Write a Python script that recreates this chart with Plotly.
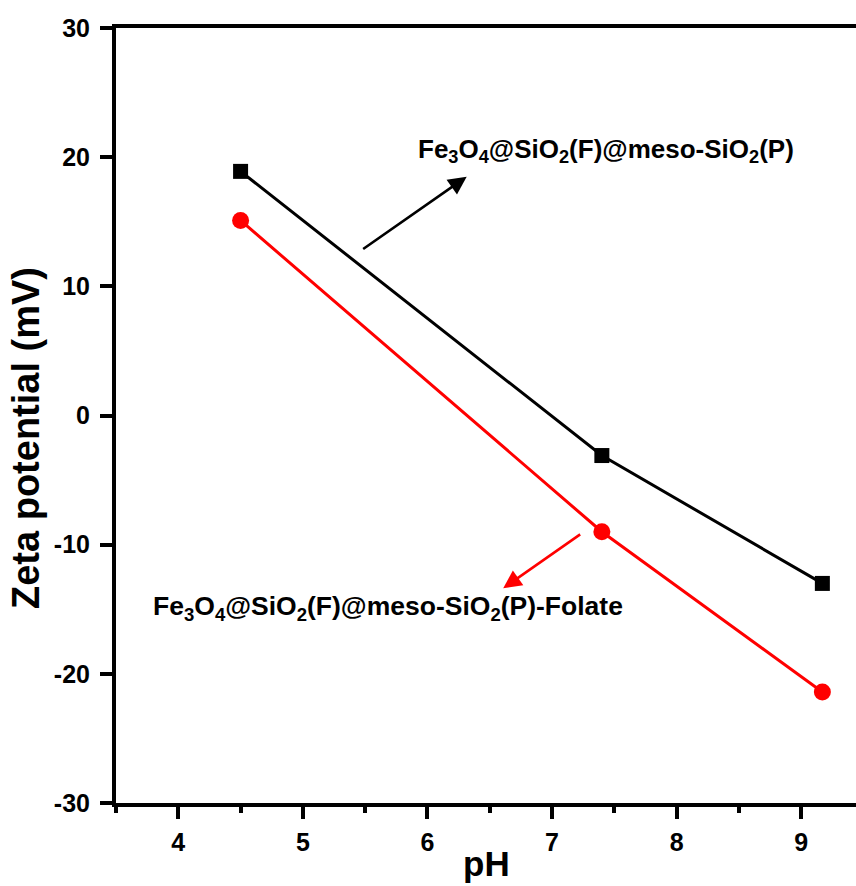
import plotly.graph_objects as go

# Zeta potential vs pH for the two particle types
ph = [4.5, 7.4, 9.17]
zeta_plain = [18.9, -3.1, -13.0]
zeta_folate = [15.1, -9.0, -21.4]

name_plain = "Fe<sub>3</sub>O<sub>4</sub>@SiO<sub>2</sub>(F)@meso-SiO<sub>2</sub>(P)"
name_folate = name_plain + "-Folate"

x_ticks = [4, 5, 6, 7, 8, 9]
y_ticks = [-30, -20, -10, 0, 10, 20, 30]

FONT = "Liberation Sans, Arial, sans-serif"

fig = go.Figure()
fig.add_trace(go.Scatter(
    x=ph, y=zeta_plain, mode="lines+markers", name=name_plain,
    line=dict(color="black", width=3),
    marker=dict(symbol="square", size=15, color="black"),
))
fig.add_trace(go.Scatter(
    x=ph, y=zeta_folate, mode="lines+markers", name=name_folate,
    line=dict(color="#ff0000", width=3),
    marker=dict(symbol="circle", size=17, color="#ff0000"),
))

label_font = dict(family=FONT, size=26, color="black", weight="bold")

annotations = [
    # series labels with pointer arrows
    dict(x=7.437, y=20.48, xref="x", yref="y", text=name_plain, showarrow=False,
         font=label_font, xanchor="center", yanchor="middle"),
    dict(x=6.315, y=18.49, ax=5.472, ay=12.81, xref="x", yref="y", axref="x", ayref="y",
         text="", showarrow=True, arrowhead=2, arrowsize=1.4, arrowwidth=2.6,
         arrowcolor="black"),
    dict(x=5.683, y=-14.87, xref="x", yref="y", text=name_folate, showarrow=False,
         font=dict(family=FONT, size=26.5, color="black", weight="bold"),
         xanchor="center", yanchor="middle"),
    dict(x=6.608, y=-13.38, ax=7.238, ay=-9.12, xref="x", yref="y", axref="x", ayref="y",
         text="", showarrow=True, arrowhead=2, arrowsize=1.4, arrowwidth=2.6,
         arrowcolor="#ff0000"),
    # axis titles
    dict(x=-0.1216, y=0.471, xref="paper", yref="paper", text="Zeta potential (mV)",
         textangle=-90, showarrow=False, xanchor="center", yanchor="middle",
         font=dict(family=FONT, size=38, color="black", weight="bold")),
    dict(x=0.501, y=-0.078, xref="paper", yref="paper", text="pH",
         showarrow=False, xanchor="center", yanchor="middle",
         font=dict(family=FONT, size=35, color="black", weight="bold")),
]

fig.update_layout(
    width=856, height=886,
    margin=dict(l=116, r=0, t=28, b=83),
    paper_bgcolor="white", plot_bgcolor="white",
    showlegend=False,
    annotations=annotations,
    font=dict(family=FONT, color="black"),
)

fig.update_xaxes(
    range=[3.5, 9.44], tickvals=x_ticks, ticktext=[str(v) for v in x_ticks],
    showgrid=False, zeroline=False,
    showline=True, linecolor="black", linewidth=4, mirror=True,
    ticks="outside", ticklen=12, tickwidth=3.5, tickcolor="black",
    minor=dict(dtick=0.5, tick0=3.5, ticks="outside", ticklen=6, tickwidth=3.5,
               tickcolor="black", showgrid=False),
    tickfont=dict(family=FONT, size=25, color="black", weight="bold"),
    ticklabelstandoff=2,
)
fig.update_yaxes(
    range=[-30, 30], tickvals=y_ticks, ticktext=[str(v) for v in y_ticks],
    showgrid=False, zeroline=False,
    showline=True, linecolor="black", linewidth=4,
    ticks="outside", ticklen=12, tickwidth=3.5, tickcolor="black",
    tickfont=dict(family=FONT, size=25, color="black", weight="bold"),
    ticklabelstandoff=5,
)

fig.write_html("out.html")
